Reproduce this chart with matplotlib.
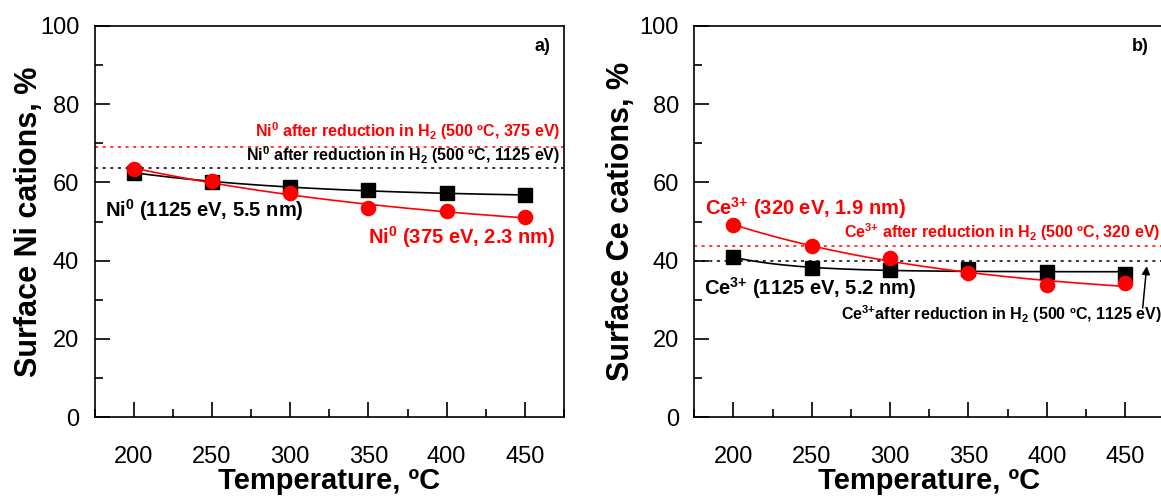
import numpy as np
import matplotlib
matplotlib.use("Agg")
import matplotlib.pyplot as plt
from matplotlib.ticker import MultipleLocator

# ---- data -------------------------------------------------------------
temperature = [200, 250, 300, 350, 400, 450]

ni0_1125 = [62.5, 60.2, 58.7, 58.0, 57.2, 56.7]     # Ni0, 1125 eV, 5.5 nm
ni0_375 = [63.4, 60.3, 57.2, 53.4, 52.7, 51.1]      # Ni0, 375 eV, 2.3 nm
ni0_h2_375 = 69.1                                    # after H2 reduction, 375 eV
ni0_h2_1125 = 63.7                                   # after H2 reduction, 1125 eV

ce3_1125 = [40.9, 38.1, 37.6, 37.9, 37.2, 36.6]     # Ce3+, 1125 eV, 5.2 nm
ce3_320 = [49.1, 43.7, 40.6, 36.8, 33.8, 34.2]      # Ce3+, 320 eV, 1.9 nm
ce3_h2_320 = 43.8
ce3_h2_1125 = 39.9

RED = "#ff0000"
plt.rcParams["font.family"] = ["Liberation Sans", "DejaVu Sans"]
plt.rcParams["mathtext.fontset"] = "custom"
plt.rcParams["mathtext.rm"] = "Liberation Sans"
plt.rcParams["mathtext.bf"] = "Liberation Sans:bold"
NARROW = ["Liberation Sans Narrow", "Liberation Sans"]

NI0 = r"Ni$^{\mathbf{0}}$"
CE3 = r"Ce$^{\mathbf{3}{\mathbf{+}}}$"
H2 = r"H$_{\mathbf{2}}$"


def exp_fit(x, y):
    """Least-squares fit y = a + b*exp(-x/c), scanning c."""
    x = np.asarray(x, float)
    y = np.asarray(y, float)
    best = None
    for c in np.linspace(20, 2000, 800):
        A = np.column_stack([np.ones_like(x), np.exp(-x / c)])
        coef, *_ = np.linalg.lstsq(A, y, rcond=None)
        r = np.sum((A @ coef - y) ** 2)
        if best is None or r < best[0]:
            best = (r, coef, c)
    _, (a, b), c = best
    xs = np.linspace(x.min(), x.max(), 200)
    return xs, a + b * np.exp(-xs / c)


def style_axes(ax, ylabel, ylab_x):
    ax.set_xlim(175, 475)
    ax.set_ylim(0, 100)
    ax.xaxis.set_major_locator(MultipleLocator(50))
    ax.xaxis.set_minor_locator(MultipleLocator(25))
    ax.yaxis.set_major_locator(MultipleLocator(20))
    ax.yaxis.set_minor_locator(MultipleLocator(10))
    ax.set_xticks([200, 250, 300, 350, 400, 450])
    ax.tick_params(which="both", direction="in", width=1.2, top=False, right=False)
    ax.tick_params(which="major", length=10.5, labelsize=17)
    ax.tick_params(which="minor", length=5.5)
    ax.tick_params(axis="x", which="major", pad=20.5)
    ax.tick_params(axis="y", which="major", pad=11)
    for s in ax.spines.values():
        s.set_linewidth(1.2)
    ax.set_xlabel("Temperature, ºC", fontsize=21, fontweight="bold")
    ax.set_ylabel(ylabel, fontsize=22, fontweight="bold")
    ax.xaxis.set_label_coords(0.5, -0.128)
    ax.yaxis.set_label_coords(ylab_x, 0.5)


fig = plt.figure(figsize=(11.61, 4.96), dpi=100)
H = 391.6 / 496
B = (496 - 417.3) / 496
ax1 = fig.add_axes([94.5 / 1161, B, 469.5 / 1161, H])
ax2 = fig.add_axes([694.3 / 1161, B, 470.0 / 1161, H])

dot = (0, (2.0, 3.0))

# ---- panel a: Ni -------------------------------------------------------
style_axes(ax1, "Surface Ni cations, %", -0.108)
ax1.axhline(ni0_h2_375, color=RED, lw=1.1, ls=dot)
ax1.axhline(ni0_h2_1125, color="black", lw=1.1, ls=dot)
xs, ys = exp_fit(temperature, ni0_1125)
ax1.plot(xs, ys, color="black", lw=1.2)
xs, ys = exp_fit(temperature, ni0_375)
ax1.plot(xs, ys, color=RED, lw=1.2)
ax1.plot(temperature, ni0_1125, "s", color="black", ms=9.6, zorder=3)
ax1.plot(temperature, ni0_375, "o", color=RED, ms=10.2, zorder=4)

ax1.text(472.6, 71.65, NI0 + " after reduction in " + H2 + " (500 ºC, 375 eV)",
         color=RED, fontsize=11.5, fontweight="bold", family=NARROW,
         ha="right", va="baseline")
ax1.text(472.6, 65.5, NI0 + " after reduction in " + H2 + " (500 ºC, 1125 eV)",
         color="black", fontsize=11.5, fontweight="bold", family=NARROW,
         ha="right", va="baseline")
ax1.text(181.7, 51.1, NI0 + " (1125 eV, 5.5 nm)", color="black",
         fontsize=14.5, fontweight="bold", ha="left", va="baseline")
ax1.text(469.6, 44.4, NI0 + " (375 eV, 2.3 nm)", color=RED,
         fontsize=14.5, fontweight="bold", ha="right", va="baseline")
ax1.text(461.3, 94.6, "a)", fontsize=13, fontweight="bold", ha="center", va="center")

# ---- panel b: Ce -------------------------------------------------------
style_axes(ax2, "Surface Ce cations, %", -0.123)
ax2.axhline(ce3_h2_320, color=RED, lw=1.1, ls=dot)
ax2.axhline(ce3_h2_1125, color="black", lw=1.1, ls=dot)
xs, ys = exp_fit(temperature, ce3_1125)
ax2.plot(xs, ys, color="black", lw=1.2)
xs, ys = exp_fit(temperature, ce3_320)
ax2.plot(xs, ys, color=RED, lw=1.2)
ax2.plot(temperature, ce3_1125, "s", color="black", ms=9.6, zorder=3)
ax2.plot(temperature, ce3_320, "o", color=RED, ms=10.2, zorder=4)

ax2.text(181.8, 51.7, CE3 + " (320 eV, 1.9 nm)", color=RED,
         fontsize=14.5, fontweight="bold", ha="left", va="baseline")
ax2.text(472.3, 45.7, CE3 + " after reduction in " + H2 + " (500 ºC, 320 eV)",
         color=RED, fontsize=11.5, fontweight="bold", family=NARROW,
         ha="right", va="baseline")
ax2.text(181.2, 31.2, CE3 + " (1125 eV, 5.2 nm)", color="black",
         fontsize=14.5, fontweight="bold", ha="left", va="baseline")
ax2.text(473.5, 24.8, CE3 + "after reduction in " + H2 + " (500 ºC, 1125 eV)",
         color="black", fontsize=11.5, fontweight="bold", family=NARROW,
         ha="right", va="baseline")
ax2.annotate("", xy=(463.8, 38.6), xytext=(461.2, 27.9),
             arrowprops=dict(arrowstyle="-|>", color="black", lw=1.1,
                             mutation_scale=12, shrinkA=0, shrinkB=0))
ax2.text(459.5, 94.6, "b)", fontsize=13, fontweight="bold", ha="center", va="center")

fig.savefig("out.png", dpi=100)
